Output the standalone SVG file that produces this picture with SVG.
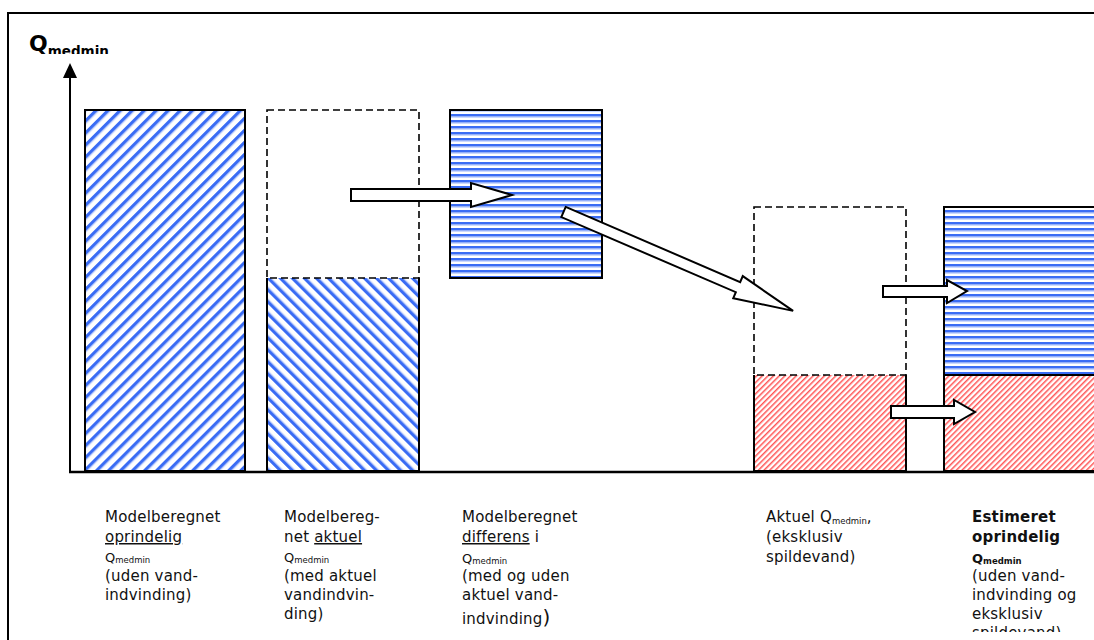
<svg xmlns="http://www.w3.org/2000/svg" width="1094" height="640" viewBox="0 0 1094 640">
  <style>
    .t { font-family: "DejaVu Sans", Verdana, sans-serif; font-size: 15px; fill: #111; letter-spacing: 0.2px; }
    .q { font-size: 13px; letter-spacing: 0; }
    .sub { font-size: 8.5px; letter-spacing: 0; }
    .b { font-weight: bold; }
    .u { text-decoration: underline; }
    .edge { stroke: #000; stroke-width: 2; }
    .line { fill: none; stroke: #000; stroke-width: 2; }
    .dash { fill: none; stroke: #000; stroke-width: 1.6; stroke-dasharray: 7 4; }
    .arr { fill: #fff; stroke: #000; stroke-width: 2; stroke-linejoin: miter; }
  </style>
  <defs>
    <pattern id="diagR" width="8.5" height="8.5" patternUnits="userSpaceOnUse" patternTransform="rotate(45)">
      <rect width="8.5" height="8.5" fill="#fff"/>
      <rect x="0" y="0" width="3.2" height="8.5" fill="#3a6cf4"/>
      <rect x="3.2" y="0" width="0.8" height="8.5" fill="#9db6fb"/>
    </pattern>
    <pattern id="diagL" width="8.5" height="8.5" patternUnits="userSpaceOnUse" patternTransform="rotate(-45)">
      <rect width="8.5" height="8.5" fill="#fff"/>
      <rect x="0" y="0" width="3.2" height="8.5" fill="#3a6cf4"/>
      <rect x="3.2" y="0" width="0.8" height="8.5" fill="#9db6fb"/>
    </pattern>
    <pattern id="horiz" width="8" height="6" patternUnits="userSpaceOnUse">
      <rect width="8" height="6" fill="#fff"/>
      <rect x="0" y="0" width="8" height="2.6" fill="#3a6cf4"/>
      <rect x="0" y="2.6" width="8" height="1" fill="#a9c0fc"/>
    </pattern>
    <pattern id="red" width="4" height="4" patternUnits="userSpaceOnUse" patternTransform="rotate(45)">
      <rect width="4" height="4" fill="#fff"/>
      <rect x="0" y="0" width="1.5" height="4" fill="#ff5555"/>
    </pattern>
    <clipPath id="clipTitle"><rect x="0" y="0" width="300" height="54"/></clipPath>
    <clipPath id="clipBottom"><rect x="0" y="0" width="1094" height="632"/></clipPath>
  </defs>

  <g id="frame">
    <path d="M8,640 V13 H1094" fill="none" stroke="#000" stroke-width="2"/>
  </g>

  <g id="axis">
    <g clip-path="url(#clipTitle)">
      <text x="29" y="51" font-family="DejaVu Sans, Verdana, sans-serif" font-weight="bold" font-size="22" fill="#000">Q<tspan font-size="13.5" dy="5">medmin</tspan></text>
    </g>
    <line x1="70" y1="76" x2="70" y2="473" stroke="#000" stroke-width="2"/>
    <polygon points="70,63 63,78 77,78" fill="#000"/>
    <line x1="69" y1="472" x2="1094" y2="472" stroke="#000" stroke-width="2.4"/>
  </g>

  <g id="bar1">
    <rect x="85" y="110" width="160" height="361" fill="url(#diagR)" class="edge"/>
  </g>

  <g id="bar2">
    <rect x="267" y="278" width="152" height="193" fill="url(#diagL)"/>
    <path d="M267,278 V471 H419 V278" class="line"/>
    <rect x="267" y="110" width="152" height="168" class="dash"/>
  </g>

  <g id="bar3">
    <rect x="450" y="110" width="152" height="168" fill="url(#horiz)" class="edge"/>
  </g>

  <g id="bar4">
    <rect x="754" y="375" width="152" height="96" fill="url(#red)"/>
    <path d="M754,375 V471 H906 V375" class="line"/>
    <rect x="754" y="207" width="152" height="168" class="dash"/>
  </g>

  <g id="bar5">
    <rect x="944" y="375" width="160" height="96" fill="url(#red)" class="edge"/>
    <rect x="944" y="207" width="160" height="168" fill="url(#horiz)" class="edge"/>
  </g>

  <g id="connectors">
    <polygon class="arr" points="351,189 471,189 471,183 512,195 471,207 471,201 351,201"/>
    <polygon class="arr" transform="translate(563.5,212) rotate(23.3)" points="0,-5.5 190,-5.5 190,-12 250,0 190,12 190,5.5 0,5.5"/>
    <polygon class="arr" points="883,286 947,286 947,280 967,291 947,303 947,297 883,297"/>
    <polygon class="arr" points="891,406 954,406 954,400 975,412 954,424 954,418 891,418"/>
  </g>

  <g id="labels" clip-path="url(#clipBottom)">
    <text class="t" x="105" y="522">Modelberegnet</text>
    <text class="t u" x="105" y="542">oprindelig</text>
    <text class="t q" x="105" y="562">Q<tspan class="sub" dy="1">medmin</tspan></text>
    <text class="t" x="105" y="581">(uden vand-</text>
    <text class="t" x="105" y="600">indvinding)</text>

    <text class="t" x="284" y="522">Modelbereg-</text>
    <text class="t" x="284" y="542">net <tspan class="u">aktuel</tspan></text>
    <text class="t q" x="284" y="562">Q<tspan class="sub" dy="1">medmin</tspan></text>
    <text class="t" x="284" y="581">(med aktuel</text>
    <text class="t" x="284" y="600">vandindvin-</text>
    <text class="t" x="284" y="619">ding)</text>

    <text class="t" x="462" y="522">Modelberegnet</text>
    <text class="t" x="462" y="542"><tspan class="u">differens</tspan> i</text>
    <text class="t q" x="462" y="563">Q<tspan class="sub" dy="1">medmin</tspan></text>
    <text class="t" x="462" y="581">(med og uden</text>
    <text class="t" x="462" y="600">aktuel vand-</text>
    <text class="t" x="462" y="624">indvinding<tspan font-size="20" letter-spacing="0">)</tspan></text>

    <text class="t" x="766" y="522">Aktuel Q<tspan class="sub" dy="2">medmin</tspan><tspan dy="-2">,</tspan></text>
    <text class="t" x="766" y="542">(eksklusiv</text>
    <text class="t" x="766" y="562">spildevand)</text>

    <text class="t b" x="972" y="522" letter-spacing="0">Estimeret</text>
    <text class="t b" x="972" y="542" letter-spacing="0">oprindelig</text>
    <text class="t q b" x="972" y="563">Q<tspan class="sub" dy="1">medmin</tspan></text>
    <text class="t" x="972" y="581">(uden vand-</text>
    <text class="t" x="972" y="600">indvinding og</text>
    <text class="t" x="972" y="619">eksklusiv</text>
    <text class="t" x="972" y="638">spildevand)</text>
  </g>
</svg>
